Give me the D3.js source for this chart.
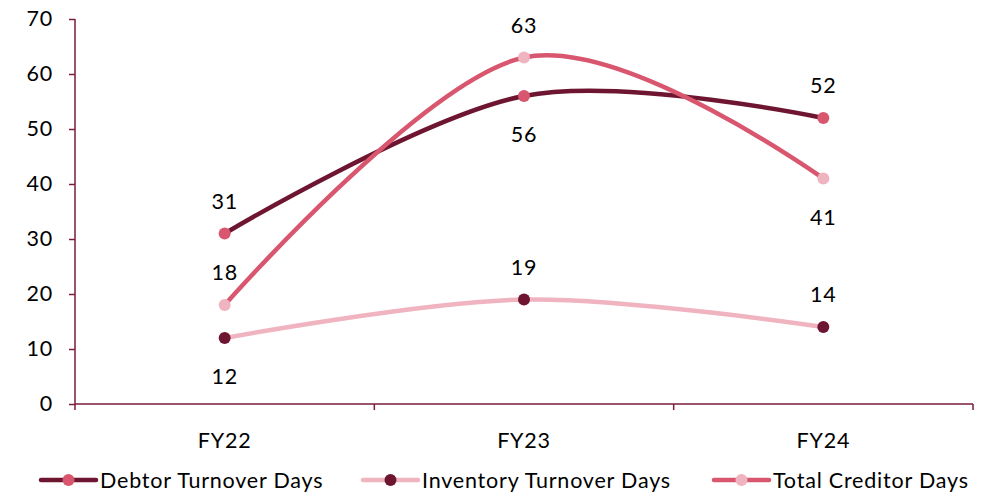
<!DOCTYPE html>
<html>
<head>
<meta charset="utf-8">
<script src="https://cdn.jsdelivr.net/npm/d3@7/dist/d3.min.js"></script>
<style>
  html, body { margin: 0; padding: 0; background: #fff; }
  svg { display: block; font-family: Lato, "Open Sans", sans-serif; }
  text { letter-spacing: 0.8px; }
</style>
</head>
<body>
<svg id="chart" width="999" height="497"></svg>
<script>
// Working-capital cycle metrics by fiscal year
const categories = ["FY22", "FY23", "FY24"];
const debtorDays = [31, 56, 52];
const inventoryDays = [12, 19, 14];
const creditorDays = [18, 63, 41];
const yTicks = [0, 10, 20, 30, 40, 50, 60, 70];

// label placement per point: "above" or "below"
const debtorPos = ["above", "below", "above"];
const inventoryPos = ["below", "above", "above"];
const creditorPos = ["above", "above", "below"];

const DARK = "#6e1631";
const MID = "#d9566f";
const LIGHT = "#f0b3c0";
const AXIS = "#7a1c3a";
const FS = 21.5;

const series = [
  { name: "Debtor Turnover Days", values: debtorDays, pos: debtorPos, line: DARK, marker: MID },
  { name: "Inventory Turnover Days", values: inventoryDays, pos: inventoryPos, line: LIGHT, marker: DARK },
  { name: "Total Creditor Days", values: creditorDays, pos: creditorPos, line: MID, marker: LIGHT }
];

const svg = d3.select("#chart");
const margin = { left: 75, right: 26, top: 19, bottom: 93 };
const W = 999, H = 497;

const x = d3.scaleBand().domain(categories).range([margin.left, W - margin.right]);
const y = d3.scaleLinear().domain([0, 70]).range([H - margin.bottom, margin.top]);
const cx = d => x(d) + x.bandwidth() / 2;

// Y axis
const yAxis = svg.append("g")
  .attr("transform", `translate(${margin.left},0)`)
  .call(d3.axisLeft(y).tickValues(yTicks).tickSize(6).tickPadding(16).tickFormat(d3.format("d")));
yAxis.select(".domain").attr("stroke", AXIS).attr("stroke-width", 1.5).attr("d", `M0,${y(70)}V${y(0)}`);
yAxis.selectAll(".tick line").attr("stroke", AXIS).attr("stroke-width", 1.5);
yAxis.selectAll(".tick text").attr("font-size", FS).attr("fill", "#000").style("font-family", "Lato, sans-serif");

// X axis: ticks between categories
const xAxisG = svg.append("g").attr("transform", `translate(0,${y(0)})`);
xAxisG.append("line")
  .attr("x1", margin.left).attr("x2", W - margin.right)
  .attr("stroke", AXIS).attr("stroke-width", 1.5);
const bounds = categories.map(c => x(c)).concat([x(categories[categories.length - 1]) + x.bandwidth()]);
xAxisG.selectAll(".xt").data(bounds).enter().append("line")
  .attr("x1", d => d).attr("x2", d => d).attr("y1", 0).attr("y2", 6)
  .attr("stroke", AXIS).attr("stroke-width", 1.5);
xAxisG.selectAll(".xl").data(categories).enter().append("text")
  .attr("x", d => cx(d)).attr("y", 44)
  .attr("text-anchor", "middle").attr("font-size", FS).attr("fill", "#000")
  .text(d => d);

// Smoothed lines
const line = d3.line()
  .x((d, i) => cx(categories[i]))
  .y(d => y(d))
  .curve(d3.curveCardinal.tension(0));

const g = svg.append("g");
series.forEach(s => {
  g.append("path")
    .attr("d", line(s.values))
    .attr("fill", "none")
    .attr("stroke", s.line)
    .attr("stroke-width", 4.5)
    .attr("stroke-linecap", "round");
});
series.forEach(s => {
  g.selectAll(null).data(s.values).enter().append("circle")
    .attr("cx", (d, i) => cx(categories[i]))
    .attr("cy", d => y(d))
    .attr("r", 6)
    .attr("fill", s.marker);
  g.selectAll(null).data(s.values).enter().append("text")
    .attr("x", (d, i) => cx(categories[i]))
    .attr("y", (d, i) => y(d) + (s.pos[i] === "above" ? -25 : 46))
    .attr("text-anchor", "middle")
    .attr("font-size", FS)
    .attr("fill", "#000")
    .text(d => d3.format(".0f")(d));
});

// Legend
const legendX = [41, 363, 714];
const legend = svg.append("g").attr("transform", "translate(0,480)");
series.forEach((s, i) => {
  const lg = legend.append("g").attr("transform", `translate(${legendX[i]},0)`);
  lg.append("line").attr("x1", 0).attr("x2", 55).attr("y1", 0).attr("y2", 0)
    .attr("stroke", s.line).attr("stroke-width", 4.5).attr("stroke-linecap", "round");
  lg.append("circle").attr("cx", 27.5).attr("cy", 0).attr("r", 6).attr("fill", s.marker);
  lg.append("text").attr("x", 59).attr("y", 8).attr("font-size", FS).attr("fill", "#000")
    .text(s.name);
});
</script>
</body>
</html>
